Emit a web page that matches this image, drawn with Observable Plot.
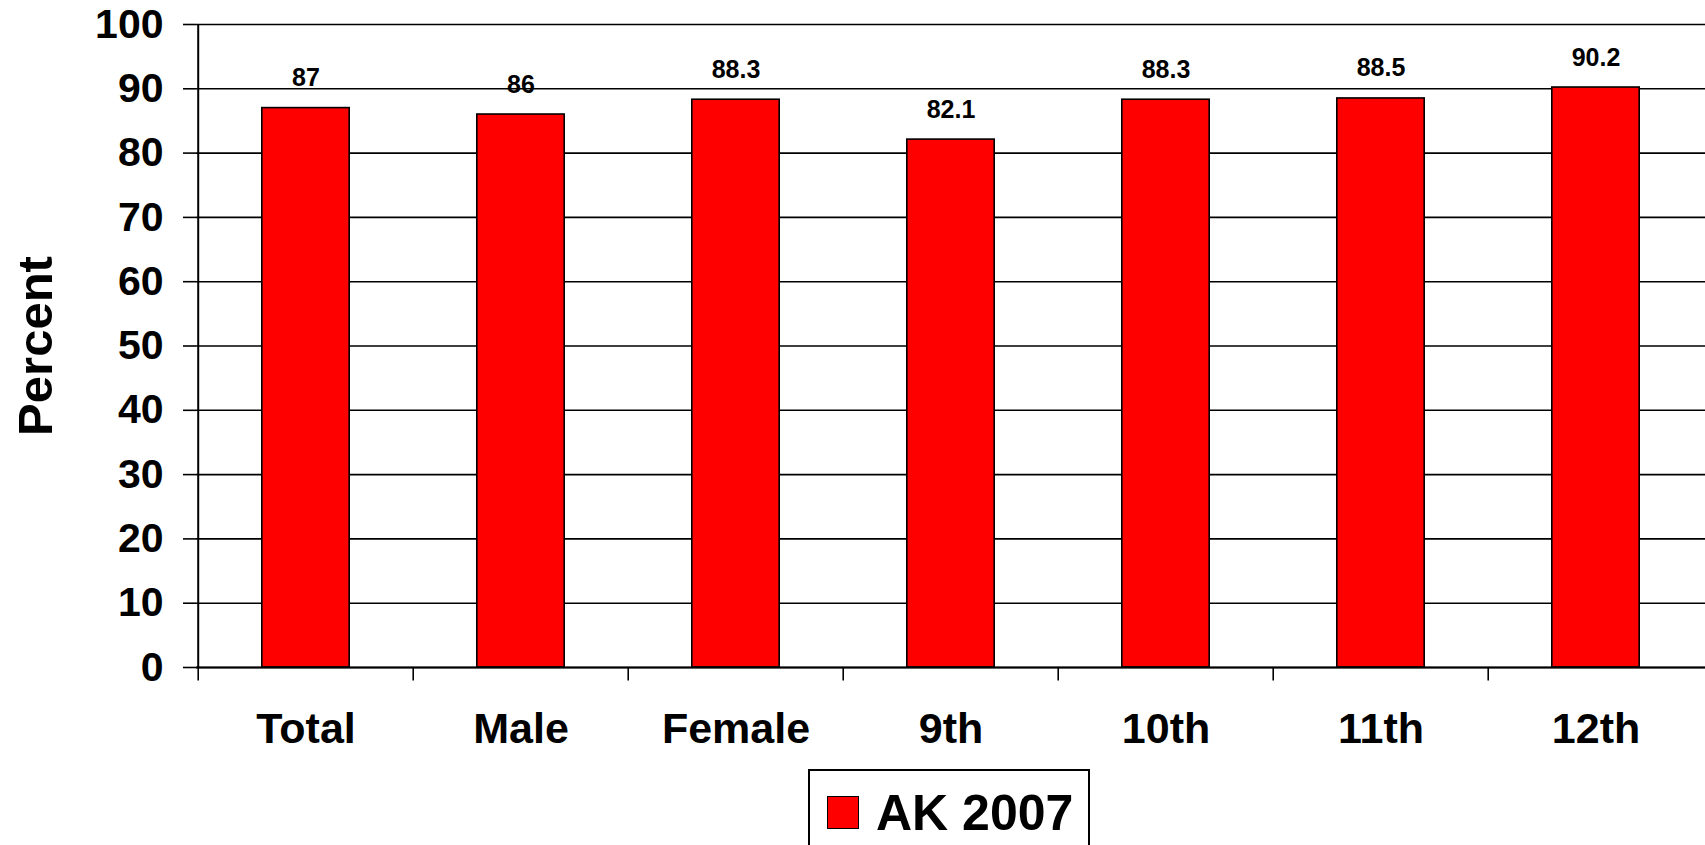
<!DOCTYPE html>
<html>
<head>
<meta charset="utf-8">
<script src="https://cdn.jsdelivr.net/npm/d3@7"></script>
<script src="https://cdn.jsdelivr.net/npm/@observablehq/plot@0.6"></script>
<style>
  html, body { margin: 0; padding: 0; background: #fff; }
  #wrap { position: relative; width: 1705px; height: 845px; overflow: hidden; font-family: "Liberation Sans", Arial, sans-serif; }
  #legend { position: absolute; left: 808px; top: 769px; width: 282px; height: 110px; border: 2px solid #000; box-sizing: border-box; background: #fff; }
  #legend .sw { position: absolute; left: 17px; top: 25px; width: 32px; height: 33px; background: #ff0000; border: 1.5px solid #000; box-sizing: border-box; }
  #legend .lb { position: absolute; left: 66px; top: 12px; font-size: 50px; font-weight: bold; line-height: 60px; color: #000; white-space: nowrap; }
</style>
</head>
<body>
<div id="wrap">
  <div id="chart"></div>
  <div id="legend"><div class="sw"></div><div class="lb"></div></div>
</div>
<script>
const categories = ["Total", "Male", "Female", "9th", "10th", "11th", "12th"];
const values = [87, 86, 88.3, 82.1, 88.3, 88.5, 90.2];
const yTicks = [0, 10, 20, 30, 40, 50, 60, 70, 80, 90, 100];
const seriesName = "AK 2007";
const yLabel = "Percent";

const data = categories.map((c, i) => ({category: c, value: values[i]}));

const W = 1705, H = 760, mL = 196, mR = 0, mT = 24, mB = 93;
const step = (W - mL - mR) / categories.length;

const chart = Plot.plot({
  width: W,
  height: H,
  marginLeft: mL,
  marginRight: mR,
  marginTop: mT,
  marginBottom: mB,
  style: {fontFamily: "'Liberation Sans', Arial, sans-serif", color: "#000", background: "#fff", overflow: "visible"},
  x: {domain: categories, padding: 0, label: null},
  y: {domain: [0, 100], label: null},
  marks: [
    Plot.gridY(yTicks, {stroke: "#000", strokeOpacity: 1, strokeWidth: 1.6}),
    Plot.axisY(yTicks, {tickSize: 13, tickPadding: 20, fontSize: 41, fontWeight: "bold", strokeWidth: 1.6, label: null}),
    Plot.axisX({tickSize: 0, tickPadding: 45, fontSize: 43, fontWeight: "bold", label: null}),
    Plot.barY(data, {x: "category", y: "value", fill: "#ff0000", stroke: "#000", strokeWidth: 1.6, insetLeft: 63.8, insetRight: 63.8}),
    Plot.ruleX(categories, {x: d => d, y1: 0, y2: -2.1, dx: -step / 2, stroke: "#000", strokeWidth: 1.6}),
    Plot.ruleX([categories[0]], {x: d => d, y1: 0, y2: 100, dx: -step / 2, stroke: "#000", strokeWidth: 2}),
    Plot.ruleY([0], {stroke: "#000", strokeWidth: 2}),
    Plot.text(data, {x: "category", y: "value", text: d => String(d.value), dy: -30, fontSize: 25, fontWeight: "bold", lineAnchor: "middle", fill: "#000"}),
    Plot.text([yLabel], {frameAnchor: "left", dx: -160, rotate: -90, textAnchor: "middle", lineAnchor: "middle", fontSize: 49, fontWeight: "bold", fill: "#000"})
  ]
});
document.getElementById("chart").appendChild(chart);
document.querySelector("#legend .lb").textContent = seriesName;
</script>
</body>
</html>
